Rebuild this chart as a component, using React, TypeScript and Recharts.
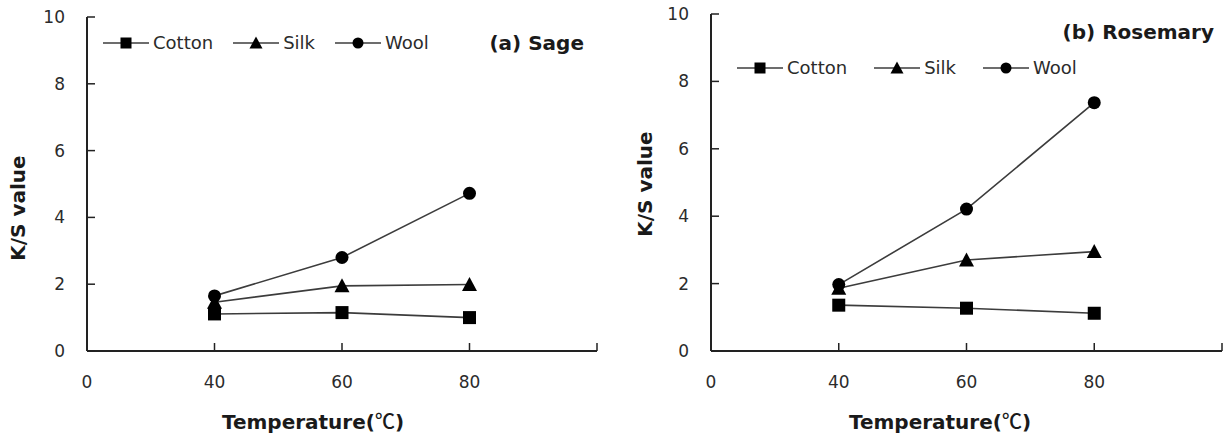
import { LineChart, Line, XAxis, YAxis } from "recharts";

// x categories: the chart uses an evenly spaced category axis (0, 40, 60, 80, blank end)
const tempLabels = ["0", "40", "60", "80", ""];
const yTicks = [0, 2, 4, 6, 8, 10];

const sageCotton = [null, 1.11, 1.15, 1.0, null];
const sageSilk = [null, 1.46, 1.95, 1.99, null];
const sageWool = [null, 1.65, 2.8, 4.72, null];

const rosemaryCotton = [null, 1.36, 1.27, 1.12, null];
const rosemarySilk = [null, 1.86, 2.7, 2.95, null];
const rosemaryWool = [null, 1.97, 4.21, 7.37, null];

const seriesNames = ["Cotton", "Silk", "Wool"];

const FONT = '"DejaVu Sans", "Noto Sans CJK KR", sans-serif';
const CJK = '"Noto Sans CJK KR", "DejaVu Sans", sans-serif';
const INK = "#2b2b2b";
const LINE = "#3c3c3c";

type Shape = "square" | "triangle" | "circle";
const shapes: Shape[] = ["square", "triangle", "circle"];

function Marker({ shape, cx, cy, size }: { shape: Shape; cx: number; cy: number; size: number }) {
  const h = size / 2;
  if (shape === "square")
    return <rect x={cx - h} y={cy - h} width={size} height={size} fill="#000" />;
  if (shape === "triangle")
    return (
      <polygon
        points={`${cx},${cy - h - 1} ${cx + h + 1},${cy + h} ${cx - h - 1},${cy + h}`}
        fill="#000"
      />
    );
  return <circle cx={cx} cy={cy} r={h} fill="#000" />;
}

const dotFor = (shape: Shape) => (p: any) => {
  if (p.value == null || p.cx == null || p.cy == null) return <g key={`d-${p.index}`} />;
  return (
    <g key={`d-${p.index}`}>
      <Marker shape={shape} cx={p.cx} cy={p.cy} size={13} />
    </g>
  );
};

function LegendRow({ left, top, gap }: { left: number; top: number; gap: number }) {
  return (
    <div
      style={{
        position: "absolute",
        left,
        top,
        display: "flex",
        alignItems: "center",
        gap,
        fontFamily: FONT,
        fontSize: 18,
        color: INK,
        lineHeight: "20px",
      }}
    >
      {seriesNames.map((name, i) => (
        <div key={name} style={{ display: "flex", alignItems: "center", gap: 4 }}>
          <svg width={46} height={16}>
            <line x1={0} y1={8} x2={46} y2={8} stroke={LINE} strokeWidth={1.6} />
            <Marker shape={shapes[i]} cx={23} cy={8} size={11} />
          </svg>
          <span>{name}</span>
        </div>
      ))}
    </div>
  );
}

function Panel({
  left,
  top,
  yAxisWidth,
  right,
  cotton,
  silk,
  wool,
  title,
  titleRight,
  titleTop,
  legendLeft,
  legendTop,
  legendGap,
  yTitleX,
  yTitleY,
  xTitleX,
}: {
  left: number;
  top: number;
  yAxisWidth: number;
  right: number;
  cotton: (number | null)[];
  silk: (number | null)[];
  wool: (number | null)[];
  title: string;
  titleRight: number;
  titleTop: number;
  legendLeft: number;
  legendTop: number;
  legendGap: number;
  yTitleX: number;
  yTitleY: number;
  xTitleX: number;
}) {
  const rows = tempLabels.map((t, i) => ({
    t,
    cotton: cotton[i],
    silk: silk[i],
    wool: wool[i],
  }));
  const tickStyle = { fontSize: 17, fill: INK, fontFamily: FONT };
  const titleStyle = {
    fontFamily: FONT,
    fontWeight: 700,
    fontSize: 20,
    color: "#1a1a1a",
    whiteSpace: "nowrap" as const,
    lineHeight: "24px",
  };

  return (
    <div style={{ position: "absolute", left, top: 0, width: 612, height: 438 }}>
      <LineChart
        width={612}
        height={438}
        data={rows}
        margin={{ top, right, bottom: 27, left: 0 }}
        style={{ fontFamily: FONT }}
      >
        <XAxis
          dataKey="t"
          type="category"
          scale="point"
          padding={{ left: 0, right: 0 }}
          height={60}
          tick={tickStyle}
          tickSize={-8}
          tickMargin={33}
          interval={0}
          axisLine={{ stroke: "#222", strokeWidth: 2 }}
          tickLine={{ stroke: "#222", strokeWidth: 1.5 }}
        />
        <XAxis
          xAxisId="top"
          orientation="top"
          dataKey="t"
          type="category"
          scale="point"
          height={0}
          tick={false}
          tickLine={false}
          axisLine={{ stroke: "#222", strokeWidth: 2 }}
        />
        <YAxis
          domain={[0, 10]}
          ticks={yTicks}
          width={yAxisWidth}
          tick={tickStyle}
          tickSize={-8}
          tickMargin={30}
          axisLine={{ stroke: "#222", strokeWidth: 2 }}
          tickLine={{ stroke: "#222", strokeWidth: 1.5 }}
        />
        <YAxis
          yAxisId="right"
          orientation="right"
          domain={[0, 10]}
          width={0}
          tick={false}
          tickLine={false}
          axisLine={{ stroke: "#222", strokeWidth: 2 }}
        />
        <Line
          dataKey="cotton"
          stroke={LINE}
          strokeWidth={1.6}
          dot={dotFor("square")}
          activeDot={false}
          isAnimationActive={false}
        />
        <Line
          dataKey="silk"
          stroke={LINE}
          strokeWidth={1.6}
          dot={dotFor("triangle")}
          activeDot={false}
          isAnimationActive={false}
        />
        <Line
          dataKey="wool"
          stroke={LINE}
          strokeWidth={1.6}
          dot={dotFor("circle")}
          activeDot={false}
          isAnimationActive={false}
        />
      </LineChart>

      <LegendRow left={legendLeft} top={legendTop} gap={legendGap} />

      <div style={{ ...titleStyle, position: "absolute", right: titleRight, top: titleTop }}>
        {title}
      </div>

      <div
        style={{
          ...titleStyle,
          position: "absolute",
          left: yTitleX,
          top: yTitleY,
          transform: "translate(-50%, -50%) rotate(-90deg)",
        }}
      >
        K/S value
      </div>

      <div
        style={{
          ...titleStyle,
          position: "absolute",
          left: xTitleX,
          top: 421,
          transform: "translate(-50%, -50%)",
        }}
      >
        Temperature(<span style={{ fontFamily: CJK, fontWeight: 500 }}>℃</span>)
      </div>
    </div>
  );
}

export default function App() {
  return (
    <div
      style={{
        position: "absolute",
        left: 0,
        top: 0,
        width: 1224,
        height: 438,
        background: "#fff",
        overflow: "hidden",
      }}
    >
      <Panel
        left={0}
        top={17}
        yAxisWidth={87}
        right={15}
        cotton={sageCotton}
        silk={sageSilk}
        wool={sageWool}
        title="(a) Sage"
        titleRight={28}
        titleTop={31}
        legendLeft={103}
        legendTop={33}
        legendGap={20}
        yTitleX={18}
        yTitleY={208}
        xTitleX={313}
      />
      <Panel
        left={612}
        top={14}
        yAxisWidth={99}
        right={2}
        cotton={rosemaryCotton}
        silk={rosemarySilk}
        wool={rosemaryWool}
        title="(b) Rosemary"
        titleRight={10}
        titleTop={20}
        legendLeft={125}
        legendTop={58}
        legendGap={27}
        yTitleX={33}
        yTitleY={184}
        xTitleX={328}
      />
    </div>
  );
}
